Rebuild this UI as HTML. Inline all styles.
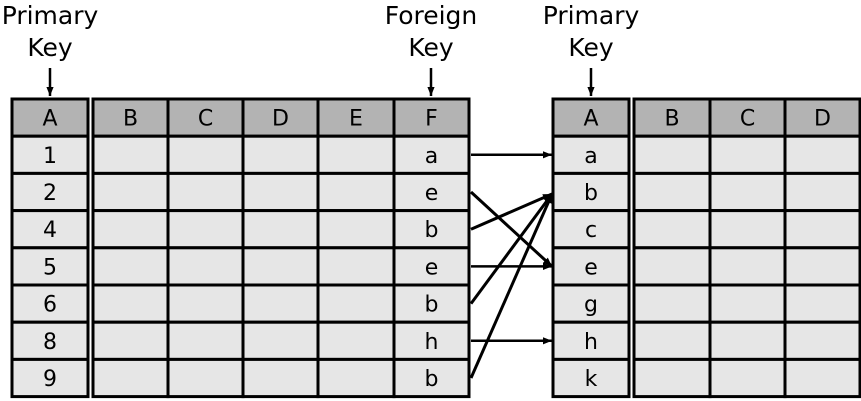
<!DOCTYPE html>
<html><head><meta charset="utf-8"><style>
body{margin:0;background:#fff}
svg{display:block;font-family:"DejaVu Sans","Liberation Sans",sans-serif}
</style></head><body>
<svg width="861" height="401" viewBox="0 0 861 401">
<defs><marker id="ah" viewBox="0 0 10 10" refX="10" refY="5" markerWidth="14" markerHeight="9" markerUnits="userSpaceOnUse" orient="auto"><path d="M0,1 L10,5 L0,9 z" fill="#000"/></marker></defs>
<g id="root"></g>
</svg>
<script>
const leftKeys=["1","2","4","5","6","8","9"];
const fkVals=["a","e","b","e","b","h","b"];
const rightKeys=["a","b","c","e","g","h","k"];
const NS="http://www.w3.org/2000/svg";
const root=document.getElementById('root');
const top0=99,rh=37.2;
function el(t,a,txt){const e=document.createElementNS(NS,t);for(const k in a)e.setAttribute(k,a[k]);if(txt!==undefined)e.textContent=txt;root.appendChild(e);return e;}
function table(name,xs,headers,cols){
  const nrows=8;
  for(let r=0;r<nrows;r++){
    for(let c=0;c<headers.length;c++){
      const cell=el('rect',{x:xs[c],y:top0+r*rh,width:xs[c+1]-xs[c],height:rh,fill:r==0?'#b3b3b3':'#e6e6e6',stroke:'#000','stroke-width':3});
      
      
      const txt=r==0?headers[c]:(cols[c]?cols[c][r-1]:'');
      if(txt){const t=el('text',{x:(xs[c]+xs[c+1])/2,y:top0+r*rh+rh/2+8,'text-anchor':'middle','font-size':22},txt);
      
      }
    }
  }
}
table('left-key-table',[12,88],['A'],[leftKeys]);
table('left-data-table',[93,168,243,318,394,469],['B','C','D','E','F'],[null,null,null,null,fkVals]);
table('right-key-table',[553,629],['A'],[rightKeys]);
table('right-data-table',[634,710,785,860],['B','C','D'],[]);
function title(x,a,b){
  const t1=el('text',{x:x,y:24,'text-anchor':'middle','font-size':25},a);
  
  const t2=el('text',{x:x,y:56,'text-anchor':'middle','font-size':25},b);
  
  const l=el('line',{x1:x,y1:68,x2:x,y2:96,stroke:'#000','stroke-width':2.5,'marker-end':'url(#ah)'});
  
}
title(50,'Primary','Key');title(431,'Foreign','Key');title(591,'Primary','Key');
fkVals.forEach((v,i)=>{
  const j=rightKeys.indexOf(v);
  const y1=top0+(i+1)*rh+rh/2,y2=top0+(j+1)*rh+rh/2+(v==='b'?2:0);
  const a=el('line',{x1:471,y1:y1,x2:552,y2:y2,stroke:'#000','stroke-width':y1===y2?2.5:3,'marker-end':'url(#ah)'});
  
  
});
</script>
</body></html>
